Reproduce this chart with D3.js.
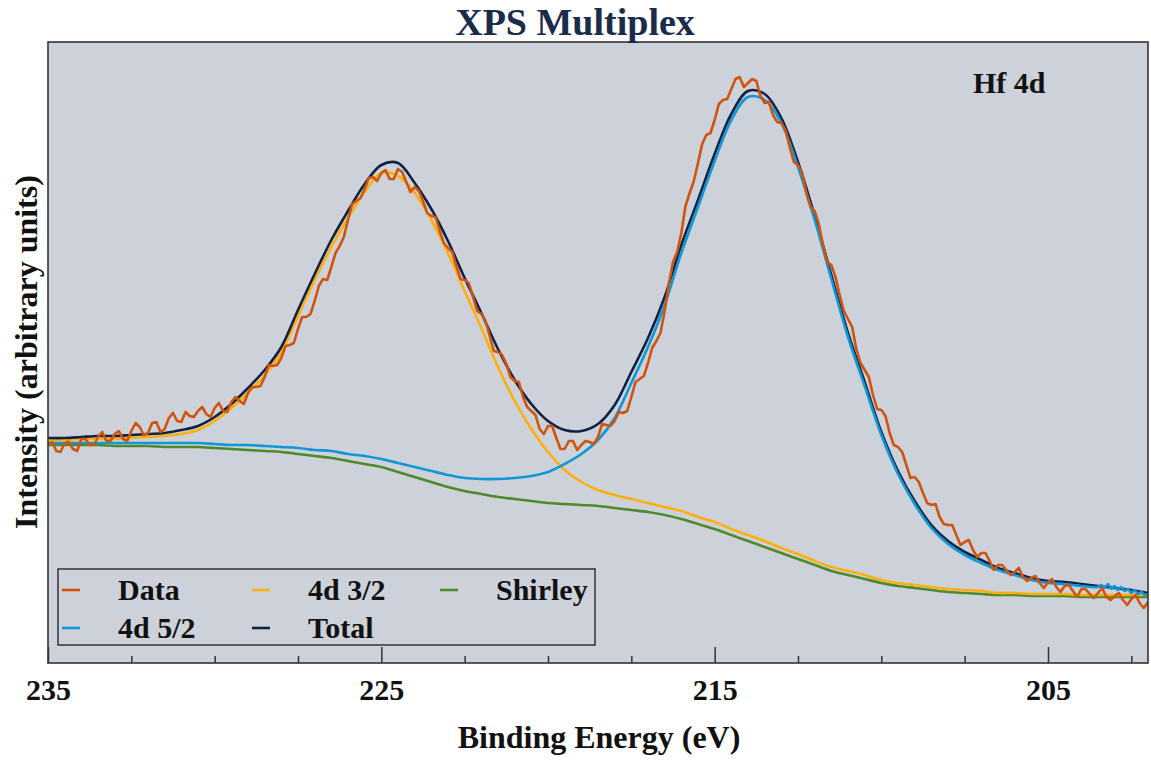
<!DOCTYPE html>
<html>
<head>
<meta charset="utf-8">
<script src="https://cdn.jsdelivr.net/npm/d3@7"></script>
<style>
  body { margin: 0; background: #fff; }
  text { font-family: "Liberation Serif", "Times New Roman", serif; font-weight: bold; }
</style>
</head>
<body>
<svg id="chart" width="1151" height="760"></svg>
<script>
// binding energy grids (eV)
const fitEnergy = d3.range(235, 201.9, -0.5);
const dataEnergy = d3.range(235, 201.9, -0.125);
const blueTailEnergy = [203.4, 203.3, 203.2, 203.1, 203.0, 202.9, 202.8, 202.7, 202.6, 202.5, 202.4, 202.3, 202.2, 202.1, 202.0];

// intensities (arbitrary units)
const shirley = [218,218,218,218,217,217,217,216,216,216, 215,214,213,212,211,209,207,205,202,199,
  196,191,186,181,176,172,169,166,164,162, 160,159,158,157,155,153,151,148,144,139,
  134,128,122,116,110,104,98,92,88,84, 80,77,75,73,71,70,69,68,68,67, 67,67,66,66,66,66,66];

const hf4d32 = [223,223,224,224,224,225,226,227,229,233, 242,255,270,288,311,347,383,416,445,471,
  490,487,470,443,410,372,335,296,262,234, 211,193,181,173,168,164,160,156,152,146,
  141,134,128,122,115,109,102,96,92,88, 83,80,78,76,74,73,72,70,70,69, 69,69,68,68,68,68,68];

const hf4d52 = [220,220,220,220,220,220,220,220,220,220, 219,218,218,217,216,215,213,212,209,207,
  204,200,196,192,188,185,184,184,185,187, 191,199,209,223,245,280,316,358,410,456,
  502,543,566,563,540,496,443,384,326,277, 228,189,159,135,119,108,100,93,88,83, 80,79,77,76];
const hf4d52Tail = [78,75,79,74,77,73,76,72,74,70,73,69,71,68,69];

const total = [225,225,226,227,227,228,229,230,233,237, 246,259,275,293,316,353,389,423,452,479,
  498,500,480,454,422,385,350,314,283,259, 242,233,232,239,258,291,325,366,418,463,
  509,549,572,569,545,501,447,388,330,281, 231,192,162,138,122,111,103,95,90,85, 82,81,79,77,75,73,70];

const measured = [
  218,221,212,211,220,221,214,212,224,224,218,218,226,231,222,222,229,232,224,222,
  232,240,236,228,230,240,241,231,234,245,250,242,241,251,247,246,252,256,249,246,
  255,260,252,251,261,266,262,259,270,276,276,277,286,298,297,298,305,317,318,320,
  334,346,346,349,362,377,384,383,396,410,417,426,443,459,462,465,474,485,486,482,
  490,493,484,484,494,491,481,471,476,472,462,450,447,446,432,420,415,411,397,384,
  383,380,366,352,349,342,327,312,311,308,299,286,282,281,266,256,252,248,234,229,
  237,237,225,214,214,222,222,213,218,222,221,219,226,239,238,237,242,251,250,252,
  266,281,284,287,300,315,322,330,352,379,401,411,430,457,470,482,500,519,528,530,
  543,559,563,564,574,584,586,576,580,584,582,567,560,561,548,541,540,533,516,501,
  498,490,470,456,452,439,418,401,398,386,368,352,344,336,314,300,293,286,268,254,
  253,247,230,218,216,211,198,185,186,181,170,160,158,159,146,139,138,138,128,118,
  121,123,113,106,110,110,102,93,98,98,93,88,91,95,86,82,85,87,80,75,
  81,84,76,71,77,78,72,66,74,74,69,65,70,75,66,63,67,70,63,58,
  64,68,60,55,61];

const majorTicks = [235, 225, 215, 205];
const minorTicks = d3.range(202.5, 235.1, 2.5);

const colors = {
  bg: "#cdd1d9",
  data: "#d0540e",
  p52: "#1297d6",
  p32: "#fdb00c",
  shirley: "#4e8a2c",
  total: "#0f2244",
  title: "#1a2c4c"
};

const plotLeft = 48, plotTop = 42, plotRight = 1148, plotBottom = 663;

const svg = d3.select("#chart");

const x = d3.scaleLinear().domain([235, 202]).range([plotLeft, plotRight]);
const y = d3.scaleLinear().domain([0, 621]).range([plotBottom, plotTop]);

svg.append("rect").attr("x", plotLeft).attr("y", plotTop)
  .attr("width", plotRight - plotLeft).attr("height", plotBottom - plotTop)
  .attr("fill", colors.bg);

svg.append("clipPath").attr("id", "plotclip")
  .append("rect").attr("x", plotLeft).attr("y", plotTop)
  .attr("width", plotRight - plotLeft).attr("height", plotBottom - plotTop);

const line = d3.line().x(d => x(d[0])).y(d => y(d[1]));
const smooth = d3.line().x(d => x(d[0])).y(d => y(d[1])).curve(d3.curveCatmullRom.alpha(0.5));

const plot = svg.append("g").attr("clip-path", "url(#plotclip)");

const blueSeries = fitEnergy.slice(0, hf4d52.length).map((e, i) => [e, hf4d52[i]])
  .concat(blueTailEnergy.map((e, i) => [e, hf4d52Tail[i]]));

const series = [
  { pts: fitEnergy.map((e, i) => [e, shirley[i]]), color: colors.shirley, gen: smooth },
  { pts: fitEnergy.map((e, i) => [e, hf4d32[i]]), color: colors.p32, gen: smooth },
  { pts: fitEnergy.map((e, i) => [e, total[i]]), color: colors.total, gen: smooth },
  { pts: blueSeries, color: colors.p52, gen: smooth },
  { pts: dataEnergy.map((e, i) => [e, measured[i]]), color: colors.data, gen: line }
];

series.forEach(s => {
  plot.append("path").datum(s.pts)
    .attr("d", s.gen)
    .attr("fill", "none")
    .attr("stroke", s.color)
    .attr("stroke-width", 2.6)
    .attr("stroke-linejoin", "round");
});

// axis with major and minor ticks pointing inward
const xAxis = svg.append("g").attr("transform", `translate(0,${plotBottom})`)
  .call(d3.axisBottom(x).tickValues(majorTicks).tickSize(-16).tickPadding(16).tickFormat(d3.format("d")));
xAxis.select(".domain").remove();
xAxis.selectAll("line").attr("stroke", "#333").attr("stroke-width", 1.5);
xAxis.selectAll("text").attr("font-size", 30).attr("fill", "#111");

const minorAxis = svg.append("g").attr("transform", `translate(0,${plotBottom})`)
  .call(d3.axisBottom(x).tickValues(minorTicks.filter(v => !majorTicks.includes(v))).tickSize(-7).tickFormat(""));
minorAxis.select(".domain").remove();
minorAxis.selectAll("line").attr("stroke", "#333").attr("stroke-width", 1.5);

svg.append("rect").attr("x", plotLeft).attr("y", plotTop)
  .attr("width", plotRight - plotLeft).attr("height", plotBottom - plotTop)
  .attr("fill", "none").attr("stroke", "#333").attr("stroke-width", 1.6);

// titles
svg.append("text").attr("x", 575).attr("y", 35).attr("text-anchor", "middle")
  .attr("font-size", 38).attr("fill", colors.title).text("XPS Multiplex");

svg.append("text").attr("x", 599).attr("y", 748).attr("text-anchor", "middle")
  .attr("font-size", 32).attr("fill", "#111").text("Binding Energy (eV)");

svg.append("text").attr("transform", "translate(37,352) rotate(-90)")
  .attr("text-anchor", "middle").attr("font-size", 32).attr("fill", "#111")
  .text("Intensity (arbitrary units)");

svg.append("text").attr("x", 973).attr("y", 93)
  .attr("font-size", 30).attr("fill", "#111").text("Hf 4d");

// legend
const legendItems = [
  { label: "Data", color: colors.data, col: 0, row: 0 },
  { label: "4d 5/2", color: colors.p52, col: 0, row: 1 },
  { label: "4d 3/2", color: colors.p32, col: 1, row: 0 },
  { label: "Total", color: colors.total, col: 1, row: 1 },
  { label: "Shirley", color: colors.shirley, col: 2, row: 0 }
];
const colX = [62, 252, 440];
const rowY = [590, 628];

const legend = svg.append("g");
legend.append("rect").attr("x", 58).attr("y", 569).attr("width", 537).attr("height", 76)
  .attr("fill", colors.bg).attr("stroke", "#333").attr("stroke-width", 1.5);

legendItems.forEach(d => {
  legend.append("line")
    .attr("x1", colX[d.col]).attr("x2", colX[d.col] + 18)
    .attr("y1", rowY[d.row]).attr("y2", rowY[d.row])
    .attr("stroke", d.color).attr("stroke-width", 2.6);
  legend.append("text")
    .attr("x", colX[d.col] + 56).attr("y", rowY[d.row] + 10)
    .attr("font-size", 30).attr("fill", "#111").text(d.label);
});
</script>
</body>
</html>
